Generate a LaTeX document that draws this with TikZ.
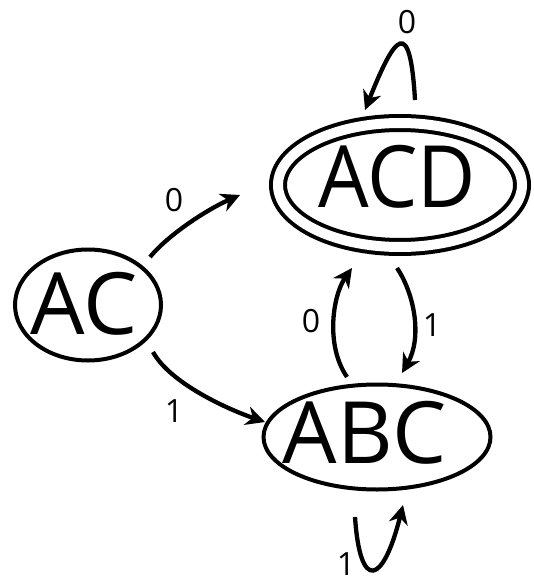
\documentclass[tikz,border=0pt]{standalone}
\usepackage{fontspec}
\setmainfont{Open Sans}
\usetikzlibrary{shapes.geometric,arrows.meta,calc}
\tikzset{
  state/.style={ellipse, draw, line width=4pt, inner sep=0pt},
  accepting/.style={state, double, double distance=10pt},
  statename/.style={inner sep=0pt, font=\fontsize{86}{90}\selectfont},
  edge/.style={line width=4.3pt, -{Stealth[length=19pt,width=19pt,inset=6pt]}},
  sym/.style={inner sep=0pt, font=\fontsize{32}{36}\selectfont}
}
\begin{document}
\begin{tikzpicture}[x=1pt,y=-1pt]
\useasboundingbox (0,0) rectangle (534,585);

% states
\node[state, minimum width=146pt, minimum height=111pt] (AC) at (88,305) {};
\node[accepting, minimum width=244pt, minimum height=124pt] (ACD) at (400,185) {};
\node[state, minimum width=227pt, minimum height=105pt] (ABC) at (377,437) {};

\node[statename] (ACt) at (84,304) {AC};
\node[statename] (ACDt) at (397,177) {\scalebox{0.93}[1]{ACD}};
\node[statename] (ABCt) at (365,433) {ABC};

% transitions
\draw[edge] ($(AC)+(62,-48)$) .. controls ($(AC)+(81,-71)$) and ($(ACD)+(-192,24)$) .. ($(ACD)+(-160,10)$);
\draw[edge] ($(AC)+(65,47)$) .. controls ($(AC)+(82,78)$) and ($(ABC)+(-150,-28)$) .. ($(ABC)+(-112,-15)$);
\draw[edge] ($(ACD)+(-3,83)$) .. controls ($(ACD)+(15,110)$) and ($(ABC)+(45,-99)$) .. ($(ABC)+(25,-64)$);
\draw[edge] ($(ABC)+(-30,-60)$) .. controls ($(ABC)+(-52,-92)$) and ($(ACD)+(-67,110)$) .. ($(ACD)+(-48,83)$);
\draw[edge] ($(ACD)+(15,-85)$) .. controls ($(ACD)+(10,-170)$) and ($(ACD)+(-5,-150)$) .. ($(ACD)+(-35,-75)$);
\draw[edge] ($(ABC)+(-22,80)$) .. controls ($(ABC)+(-17,155)$) and ($(ABC)+(6,148)$) .. ($(ABC)+(26,68)$);

% input symbols
\node[sym] (s1) at (174,200) {0};
\node[sym] (s2) at (174,411) {1};
\node[sym] (s3) at (432,325) {1};
\node[sym] (s4) at (311,321) {0};
\node[sym] (s5) at (407,22) {0};
\node[sym] (s6) at (346,564) {1};
\end{tikzpicture}
\end{document}
